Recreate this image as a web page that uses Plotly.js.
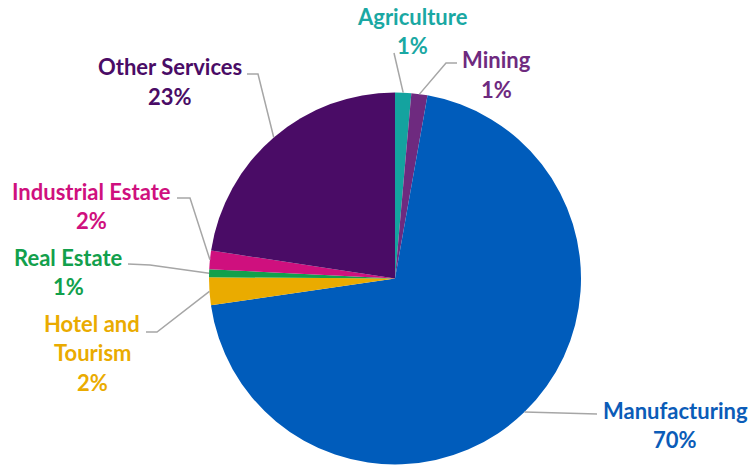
<!DOCTYPE html>
<html>
<head>
<meta charset="utf-8">
<script src="https://cdn.plot.ly/plotly-3.0.1.min.js"></script>
<style>html,body{margin:0;padding:0;background:#fff;}#chart{width:753px;height:467px;}</style>
</head>
<body>
<div id="chart"></div>
<script>
// ---- data ----
const categories = ['Agriculture', 'Mining', 'Manufacturing', 'Hotel and Tourism', 'Real Estate', 'Industrial Estate', 'Other Services'];
const values = [1.4, 1.4, 69.9, 2.4, 0.7, 1.6, 22.6];
const labelLines = [['Agriculture'], ['Mining'], ['Manufacturing'], ['Hotel and', 'Tourism'], ['Real Estate'], ['Industrial Estate'], ['Other Services']];

// ---- style ----
const sliceColors = ['#14A39F', '#6E2A7F', '#005CBB', '#EAAB00', '#12A04C', '#CF107E', '#4A0C66'];
const textColors = ['#1AA8A3', '#6E2A7F', '#0B5CB8', '#EAAB00', '#12A04C', '#CF107E', '#4A0C66'];
const W = 753, H = 467;
const cx = 395, cy = 278.5, R = 186;
// label layout (pixel positions): center x, first line y, leader polyline after slice point
const labelPos = [
  {x: 413, y: 16, path: [[394, 53]]},
  {x: 496, y: 60, path: [[446, 63], [457, 63]]},
  {x: 675, y: 410, path: [[597, 414]]},
  {x: 92, y: 323, path: [[157, 332], [146, 332]]},
  {x: 68, y: 257, path: [[150, 265], [128, 264]]},
  {x: 91, y: 191, path: [[190, 198], [177, 198]]},
  {x: 170, y: 67, path: [[258, 74], [247, 74]]}
];
const lineGap = 29.5;
const fontFamily = 'Lato, "Open Sans", sans-serif';
const fontSize = 22;

const px = x => x / W;
const py = y => 1 - y / H;

const total = values.reduce((a, b) => a + b, 0);
const annotations = [];
const shapes = [];
let cum = 0;
values.forEach((v, i) => {
  const mid = (cum + v / 2) / total * 2 * Math.PI;
  cum += v;
  const sx = cx + R * Math.sin(mid), sy = cy - R * Math.cos(mid);
  const pos = labelPos[i];
  const lines = labelLines[i].concat([Math.round(v / total * 100) + '%']);
  lines.forEach((t, k) => {
    annotations.push({
      xref: 'paper', yref: 'paper', x: px(pos.x), y: py(pos.y + k * lineGap),
      xanchor: 'center', yanchor: 'middle', showarrow: false, text: t,
      font: {family: fontFamily, size: fontSize, color: textColors[i], weight: 'bold'}
    });
  });
  let d = 'M ' + px(sx) + ' ' + py(sy);
  pos.path.forEach(p => { d += ' L ' + px(p[0]) + ' ' + py(p[1]); });
  shapes.push({type: 'path', xref: 'paper', yref: 'paper', path: d, line: {color: '#A6A6A6', width: 1.5}, layer: 'above'});
});

const trace = {
  type: 'pie',
  labels: categories,
  values: values,
  sort: false,
  direction: 'clockwise',
  rotation: 0,
  textinfo: 'none',
  hoverinfo: 'label+percent',
  marker: {colors: sliceColors, line: {width: 0}},
  domain: {x: [px(cx - R), px(cx + R)], y: [py(cy + R), py(cy - R)]},
  showlegend: false
};

Plotly.newPlot('chart', [trace], {
  width: W, height: H,
  margin: {l: 0, r: 0, t: 0, b: 0},
  paper_bgcolor: '#ffffff',
  showlegend: false,
  annotations: annotations,
  shapes: shapes
}, {displayModeBar: false, staticPlot: true});
</script>
</body>
</html>
